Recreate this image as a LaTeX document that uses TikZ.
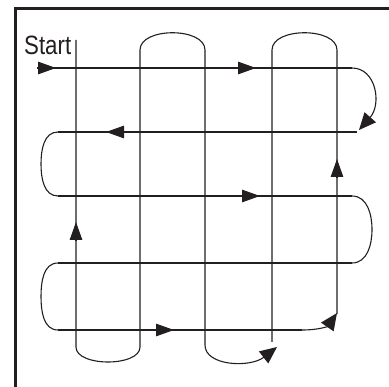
\documentclass[tikz,border=0pt]{standalone}
\usepackage{fontspec}
\setmainfont{Liberation Sans}
\usetikzlibrary{arrows.meta}
\definecolor{ink}{HTML}{231F20}
\begin{document}
\begin{tikzpicture}[x=1pt,y=-1pt,
  path/.style={draw=ink,line width=1.1pt},
  arr/.style={draw=ink,line width=1.1pt,-{Triangle[length=18pt,width=12.5pt]}},
  carr/.style={draw=ink,line width=1.1pt,-{Triangle[length=17pt,width=15pt]}},
  frame/.style={draw=ink,line width=2.7pt,line join=miter}]
\useasboundingbox (0,0) rectangle (389,387);
% frame
\draw[frame] (15.3,390) -- (15.3,8.4) -- (392,8.4);
% label
\node[anchor=base west,inner sep=0pt,text=ink] (start) at (24,55)
  {\fontsize{26.5}{30}\selectfont\scalebox{0.84}[1]{Start}};
% coordinates
\coordinate (h1s) at (38,68);   \coordinate (h1e) at (352,68);
\coordinate (h2s) at (58,132);  \coordinate (h2e) at (357,132);
\coordinate (h3s) at (58,196);  \coordinate (h3e) at (352,196);
\coordinate (h4s) at (58,263);  \coordinate (h4e) at (352,263);
\coordinate (h5s) at (58,330);  \coordinate (h5e) at (302,330);
% horizontal serpentine
\draw[path] (h1s) -- (h1e);
\draw[carr] (h1e) .. controls (376,68) and (382,104) .. (359,130);
\draw[path] (h2e) -- (h2s);
\draw[path] (h2s) to[out=180,in=90] (41,164) to[out=-90,in=180] (h3s);
\draw[path] (h3s) -- (h3e);
\draw[path] (h3e) to[out=0,in=90] (372,229.5) to[out=-90,in=0] (h4e);
\draw[path] (h4e) -- (h4s);
\draw[path] (h4s) to[out=180,in=90] (41,296.5) to[out=-90,in=180] (h5s);
\draw[path] (h5s) -- (h5e);
\draw[carr] (h5e) .. controls (320,330) and (328,326) .. (337,313);
% vertical serpentine
\coordinate (v5b) at (337,314); \coordinate (v5t) at (337,50);
\coordinate (v4t) at (272,50);  \coordinate (v4b) at (272,342);
\coordinate (v3t) at (205,50);  \coordinate (v3b) at (205,345);
\coordinate (v2t) at (140,50);  \coordinate (v2b) at (140,347);
\coordinate (v1b) at (76,347);  \coordinate (v1t) at (76,40);
\draw[path] (v5b) -- (v5t) .. controls (337,27) and (272,27) .. (v4t) -- (v4b);
\draw[carr] (v3b) .. controls (205,366) and (250,368) .. (277,347);
\draw[path] (v3b) -- (v3t) .. controls (205,27) and (140,27) .. (v2t) -- (v2b)
  .. controls (140,367) and (76,367) .. (v1b) -- (v1t);
% mid-line arrowheads
\draw[arr] (37,68) -- (56,68);
\draw[arr] (237,68) -- (256,68);
\draw[arr] (125,132) -- (106,132);
\draw[arr] (241,196) -- (260,196);
\draw[arr] (155,330) -- (174,330);
\draw[arr] (76,241) -- (76,222);
\draw[arr] (337,178) -- (337,159);
\end{tikzpicture}
\end{document}
